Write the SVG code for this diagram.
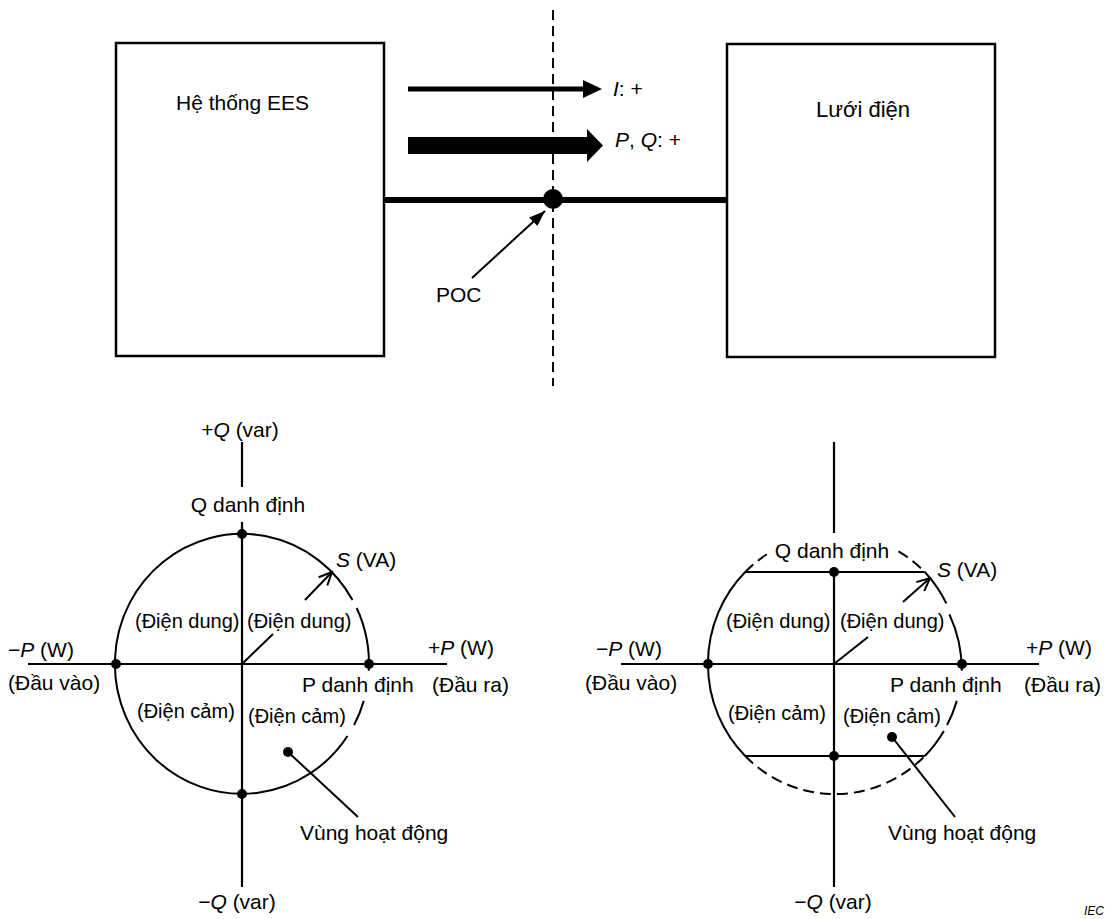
<svg xmlns="http://www.w3.org/2000/svg" width="1119" height="919" viewBox="0 0 1119 919">
<defs>
<style>
text { font-family: "Liberation Sans", Arial, sans-serif; fill: #000; }
.t22 { font-size: 22px; }
.t21 { font-size: 21px; }
.t20 { font-size: 20px; }
.it { font-style: italic; }
.box { fill: #fff; stroke: #000; stroke-width: 2.5; }
.ax { stroke: #000; stroke-width: 2.2; fill: none; }
.arc { stroke: #000; stroke-width: 2; fill: none; }
.dash { stroke: #000; stroke-width: 2; fill: none; stroke-dasharray: 11 6; }
.thin { stroke: #000; stroke-width: 2; fill: none; }
.dot { fill: #000; }
</style>
<marker id="open" viewBox="0 0 16 14" refX="14" refY="7" markerWidth="16" markerHeight="14" markerUnits="userSpaceOnUse" orient="auto">
<path d="M1,1 L14,7 L1,13" fill="none" stroke="#000" stroke-width="2"/>
</marker>
<marker id="solid" viewBox="0 0 16 12" refX="16" refY="6" markerWidth="16" markerHeight="12" markerUnits="userSpaceOnUse" orient="auto">
<path d="M0,0 L16,6 L0,12 Z" fill="#000"/>
</marker>
</defs>
<rect width="1119" height="919" fill="#fff"/>

<!-- top block diagram -->
<g id="ees-box">
<rect class="box" x="116" y="43" width="268" height="313"/>
<text class="t21" x="176" y="110">Hệ thống EES</text>
</g>
<g id="grid-box">
<rect class="box" x="727" y="44" width="268" height="313"/>
<text class="t22" x="816" y="117">Lưới điện</text>
</g>

<g id="connectors">
<line x1="553" y1="10" x2="553" y2="386" stroke="#000" stroke-width="2" stroke-dasharray="10 6"/>
<line x1="384" y1="200" x2="727" y2="200" stroke="#000" stroke-width="6"/>
<line x1="408" y1="89" x2="586" y2="89" stroke="#000" stroke-width="5"/>
<polygon points="583,80 602,89 583,98" fill="#000"/>
<rect x="408" y="137" width="180" height="17" fill="#000"/>
<polygon points="587,129 603,145.5 587,162" fill="#000"/>
<line x1="472" y1="278" x2="545" y2="211" stroke="#000" stroke-width="2" marker-end="url(#solid)"/>
</g>

<g id="poc">
<circle cx="553" cy="199" r="10" class="dot"/>
<text class="t21" x="436" y="302">POC</text>
</g>
<g id="flow-labels">
<text class="t21" x="613" y="96"><tspan class="it">I</tspan>: +</text>
<text class="t21" x="615" y="147"><tspan class="it">P</tspan>, <tspan class="it">Q</tspan>: +</text>
</g>

<!-- left chart -->
<g id="chart-left">
<line class="ax" x1="242" y1="442" x2="242" y2="487"/>
<line class="ax" x1="242" y1="522" x2="242" y2="887"/>
<line class="ax" x1="28" y1="664" x2="447" y2="664"/>
<path class="arc" d="M352.5,600 A127,130 0 1 0 347.5,736"/>
<path class="arc" d="M356.7,608 A127,130 0 0 1 368.8,670.8"/>
<path class="arc" d="M363.8,700.9 A127,130 0 0 1 354.1,725"/>
<line class="thin" x1="242" y1="664" x2="273" y2="634"/>
<line class="thin" x1="305" y1="600" x2="332" y2="572" marker-end="url(#open)"/>
<circle class="dot" cx="242" cy="534" r="5"/>
<circle class="dot" cx="116" cy="664" r="5"/>
<circle class="dot" cx="369" cy="664" r="5"/>
<circle class="dot" cx="242" cy="794" r="5"/>
<circle class="dot" cx="288" cy="752" r="5"/>
<line class="thin" x1="288" y1="752" x2="358" y2="817"/>
<text class="t21" x="240" y="437" text-anchor="middle">+<tspan class="it">Q</tspan> (var)</text>
<text class="t21" x="248" y="512" text-anchor="middle">Q danh định</text>
<text class="t21" x="336" y="567"><tspan class="it">S</tspan> (VA)</text>
<text class="t20" x="135" y="628">(Điện dung)</text>
<text class="t20" x="247" y="628">(Điện dung)</text>
<text class="t21" x="8" y="657">−<tspan class="it">P</tspan> (W)</text>
<text class="t21" x="8" y="690">(Đầu vào)</text>
<text class="t21" x="428" y="655">+<tspan class="it">P</tspan> (W)</text>
<text class="t21" x="432" y="692">(Đầu ra)</text>
<text class="t21" x="302" y="692">P danh định</text>
<text class="t20" x="137" y="718">(Điện cảm)</text>
<text class="t20" x="248" y="723">(Điện cảm)</text>
<text class="t21" x="300" y="840">Vùng hoạt động</text>
<text class="t21" x="237" y="909" text-anchor="middle">−<tspan class="it">Q</tspan> (var)</text>
</g>

<!-- right chart -->
<g id="chart-right">
<line class="ax" x1="834" y1="442" x2="834" y2="533"/>
<line class="ax" x1="834" y1="572" x2="834" y2="887"/>
<line class="ax" x1="621" y1="664" x2="1039" y2="664"/>
<line class="ax" x1="745.2" y1="572" x2="924.8" y2="572"/>
<line class="ax" x1="745.2" y1="756" x2="924.8" y2="756"/>
<path class="arc" d="M745.2,572 A127,130 0 0 0 745.2,756"/>
<path class="arc" d="M924.8,572 A127,130 0 0 1 946.4,603.5"/>
<path class="arc" d="M949.4,614.3 A127,130 0 0 1 961.8,670.8"/>
<path class="arc" d="M956.8,700.9 A127,130 0 0 1 947.1,725"/>
<path class="arc" d="M943.9,731 A127,130 0 0 1 924.8,756"/>
<path class="dash" d="M745.2,572 A127,130 0 0 1 771.5,551.4"/>
<path class="dash" d="M898.5,551.4 A127,130 0 0 1 924.8,572"/>
<path class="dash" d="M745.2,756 A127,130 0 0 0 924.8,756"/>
<line class="thin" x1="834" y1="664" x2="868" y2="637"/>
<line class="thin" x1="903" y1="602" x2="930" y2="578" marker-end="url(#open)"/>
<circle class="dot" cx="834" cy="572" r="5"/>
<circle class="dot" cx="708" cy="664" r="5"/>
<circle class="dot" cx="962" cy="664" r="5"/>
<circle class="dot" cx="834" cy="756" r="5"/>
<circle class="dot" cx="892" cy="737" r="5"/>
<line class="thin" x1="892" y1="737" x2="955" y2="817"/>
<text class="t21" x="832" y="558" text-anchor="middle">Q danh định</text>
<text class="t21" x="937" y="577"><tspan class="it">S</tspan> (VA)</text>
<text class="t20" x="726" y="628">(Điện dung)</text>
<text class="t20" x="840" y="628">(Điện dung)</text>
<text class="t21" x="596" y="656">−<tspan class="it">P</tspan> (W)</text>
<text class="t21" x="585" y="690">(Đầu vào)</text>
<text class="t21" x="1026" y="655">+<tspan class="it">P</tspan> (W)</text>
<text class="t21" x="1024" y="692">(Đầu ra)</text>
<text class="t21" x="890" y="692">P danh định</text>
<text class="t20" x="728" y="720">(Điện cảm)</text>
<text class="t20" x="843" y="723">(Điện cảm)</text>
<text class="t21" x="888" y="840">Vùng hoạt động</text>
<text class="t21" x="833" y="909" text-anchor="middle">−<tspan class="it">Q</tspan> (var)</text>
</g>

<g id="source">
<text x="1084" y="915" font-size="12" class="it">IEC</text>
</g>
</svg>
